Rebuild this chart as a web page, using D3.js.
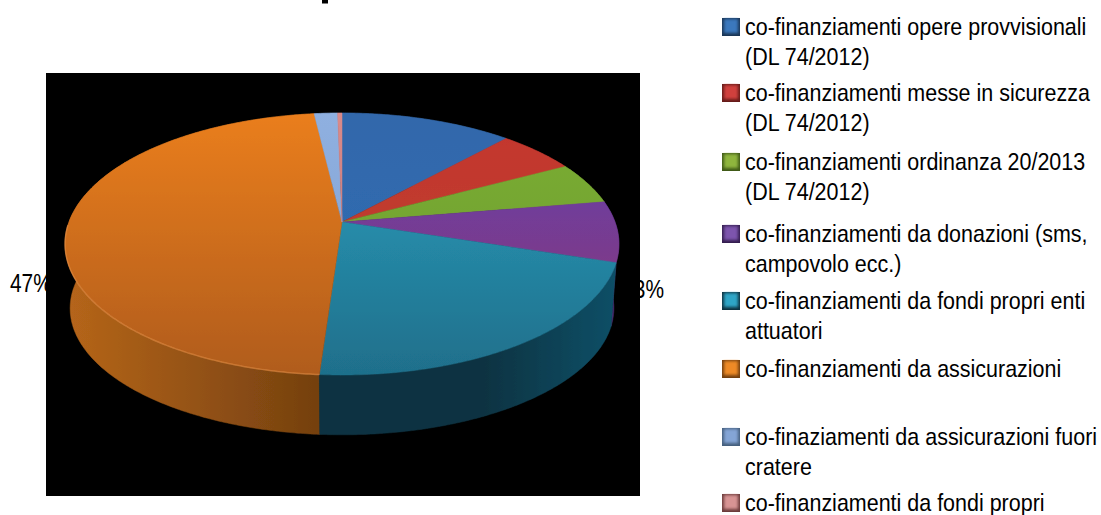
<!DOCTYPE html>
<html>
<head>
<meta charset="utf-8">
<script src="https://cdnjs.cloudflare.com/ajax/libs/d3/7.9.0/d3.min.js"></script>
<style>
    html, body { margin: 0; padding: 0; background: #fff; overflow: hidden; }
    text { font-family: "Liberation Sans", Arial, sans-serif; fill: #000; }
</style>
</head>
<body>
<svg id="chart" width="1101" height="515"></svg>
<script>
// Data
const categories = [
    ['co-finanziamenti opere provvisionali', '(DL 74/2012)'],
    ['co-finanziamenti messe in sicurezza', '(DL 74/2012)'],
    ['co-finanziamenti ordinanza 20/2013', '(DL 74/2012)'],
    ['co-finanziamenti da donazioni (sms,', 'campovolo ecc.)'],
    ['co-finanziamenti da fondi propri enti', 'attuatori'],
    ['co-finanziamenti da assicurazioni'],
    ['co-finaziamenti da assicurazioni fuori', 'cratere'],
    ['co-finanziamenti da fondi propri']
];
const shares = [11.8, 5.4, 5.2, 7.5, 21.2, 47.0, 1.6, 0.3];
const visibleLabels = ['47%', '23%'];
const legendRowY = [27, 93, 162, 234, 301, 369, 437, 503];

const topLight = ['#3267ab', '#c5352f', '#7cae30', '#6040b0', '#2ba0bf', '#ea7e1c', '#8fb0e0', '#d98a8a'];
const topDark = ['#2b70b4', '#b8442a', '#6a9a36', '#903670', '#1f6f8b', '#b05c1a', '#7f9fd0', '#c07070'];
const sideLight = ['#244a78', '#8a2522', '#56781f', '#4a2a70', '#0f5068', '#b5651a', '#5f7fa8', '#904f4f'];
const sideDark = ['#1a3657', '#661b19', '#405a17', '#351e50', '#0d3342', '#74400f', '#46607f', '#6c3b3b'];
const swatchFill = ['#3a78bd', '#d0403c', '#8fb53e', '#7d55ad', '#2fa5c6', '#ee8a26', '#84a5d6', '#d89494'];

const svg = d3.select('#chart');
const defs = svg.append('defs');

// Perspective of the pie: unit disc -> screen
const center = { x: 342, y: 222 };
const tilt = 0.168;
const topDisc = { rx: 273, ry: 127.3, y: center.y };
const baseDisc = { rx: 268, ry: 123, y: 287 };

function project(disc, angle) {
    const u = Math.sin(angle), v = -Math.cos(angle);
    const w = 1 - tilt * v;
    return [center.x + disc.rx * u / w, disc.y + disc.ry * v / w];
}

const arcs = d3.pie().sort(null).value(d => d)(shares);
const path = d3.line();

function rim(disc, a0, a1) {
    const n = Math.max(2, Math.ceil((a1 - a0) / 0.01));
    return d3.range(n + 1).map(i => project(disc, a0 + (a1 - a0) * i / n));
}

// Labels sit behind the black plot background, as in the original
svg.append('text')
    .attr('transform', 'translate(10,292) scale(0.95,1.15)')
    .attr('font-size', 22)
    .text(visibleLabels[0]);
svg.append('text')
    .attr('transform', 'translate(664,298) scale(0.95,1.15)')
    .attr('text-anchor', 'end')
    .attr('font-size', 22)
    .text(visibleLabels[1]);

// Cut-off title stroke
svg.append('rect')
    .attr('x', 322).attr('y', 0).attr('width', 6).attr('height', 3.5).attr('fill', '#000');

svg.append('rect')
    .attr('x', 46).attr('y', 73).attr('width', 594).attr('height', 423)
    .attr('fill', '#000');

// Gradients
arcs.forEach((d, i) => {
    const top = defs.append('linearGradient')
        .attr('id', `top-${i}`)
        .attr('gradientUnits', 'userSpaceOnUse')
        .attr('x1', 0).attr('x2', 0).attr('y1', 113).attr('y2', 375);
    top.append('stop').attr('offset', 0).attr('stop-color', topLight[i]);
    top.append('stop').attr('offset', 1).attr('stop-color', topDark[i]);

    const side = defs.append('linearGradient')
        .attr('id', `side-${i}`)
        .attr('gradientUnits', 'userSpaceOnUse')
        .attr('x1', i === 5 ? 70 : 320).attr('x2', i === 5 ? 320 : 620)
        .attr('y1', 0).attr('y2', 0);
    if (i === 5) {
        side.append('stop').attr('offset', 0).attr('stop-color', sideLight[i]);
        side.append('stop').attr('offset', 1).attr('stop-color', sideDark[i]);
    } else {
        side.append('stop').attr('offset', 0).attr('stop-color', sideDark[i]);
        side.append('stop').attr('offset', 0.55).attr('stop-color', sideDark[i]);
        side.append('stop').attr('offset', 1).attr('stop-color', sideLight[i]);
    }
});

const soft = defs.append('filter').attr('id', 'soft');
soft.append('feGaussianBlur').attr('stdDeviation', 0.7);

defs.append('filter').attr('id', 'swatch-blur')
    .append('feGaussianBlur').attr('stdDeviation', 1.6);

const pie = svg.append('g').attr('filter', 'url(#soft)');

// Side walls, back ones first
const bySide = arcs.slice().sort((a, b) =>
    Math.cos((a.startAngle + a.endAngle) / 2) > Math.cos((b.startAngle + b.endAngle) / 2) ? -1 : 1);

pie.append('g').selectAll('path')
    .data(bySide)
    .join('path')
    .attr('d', d => {
        const upper = rim(topDisc, d.startAngle, d.endAngle);
        const lower = rim(baseDisc, d.startAngle, d.endAngle).reverse();
        return path(upper.concat(lower)) + 'Z';
    })
    .attr('fill', d => `url(#side-${d.index})`)
    .attr('stroke', d => `url(#side-${d.index})`)
    .attr('stroke-width', 0.5);

// Top faces
pie.append('g').selectAll('path')
    .data(arcs)
    .join('path')
    .attr('d', d => path([[center.x, center.y]].concat(rim(topDisc, d.startAngle, d.endAngle))) + 'Z')
    .attr('fill', d => `url(#top-${d.index})`)
    .attr('stroke', d => `url(#top-${d.index})`)
    .attr('stroke-width', 0.5);

// Light edge along the front of the orange slice
const orange = arcs[5];
pie.append('path')
    .attr('d', path(rim(topDisc, orange.startAngle, orange.startAngle + (orange.endAngle - orange.startAngle) * 0.5)))
    .attr('fill', 'none')
    .attr('stroke', '#e8924a')
    .attr('stroke-opacity', 0.55)
    .attr('stroke-width', 1.5);

// Legend
const rows = svg.append('g').selectAll('g')
    .data(categories)
    .join('g')
    .attr('transform', (d, i) => `translate(0,${legendRowY[i]})`);

rows.append('rect')
    .attr('x', 722).attr('y', -9).attr('width', 18).attr('height', 18)
    .attr('fill', (d, i) => sideDark[i]);
rows.append('rect')
    .attr('x', 724).attr('y', -8).attr('width', 14).attr('height', 14)
    .attr('fill', (d, i) => swatchFill[i])
    .attr('filter', 'url(#swatch-blur)');

rows.each(function(lines) {
    d3.select(this).selectAll('text')
        .data(lines)
        .join('text')
        .attr('transform', (d, j) => `translate(745,${8 + j * 30}) scale(0.895,1)`)
        .attr('font-size', 24)
        .text(d => d);
});
</script>
</body>
</html>
